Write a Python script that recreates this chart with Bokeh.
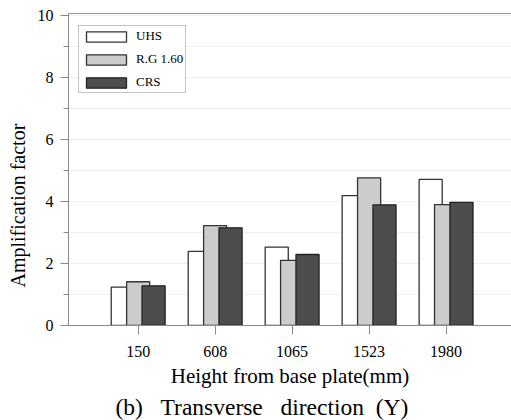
from bokeh.plotting import figure
from bokeh.models import (Range1d, FixedTicker, SingleIntervalTicker, LinearAxis,
                          Legend, LegendItem, ColumnDataSource, Title)
from bokeh.transform import dodge
from bokeh.embed import file_html
from bokeh.resources import INLINE

heights = ["150", "608", "1065", "1523", "1980"]
uhs = [1.24, 2.39, 2.53, 4.19, 4.71]
rg160 = [1.41, 3.22, 2.10, 4.76, 3.90]
crs = [1.28, 3.15, 2.29, 3.89, 3.97]
series_names = ["UHS", "R.G 1.60", "CRS"]

FONT = "Liberation Serif"
pos = list(range(1, len(heights) + 1))
src = ColumnDataSource(dict(x=pos, uhs=uhs, rg=rg160, crs=crs))

p = figure(width=511, height=420, output_backend="svg", toolbar_location=None,
           x_range=Range1d(0.095, 5.85), y_range=Range1d(0, 10.06),
           min_border_left=68, min_border_right=0, min_border_top=13,
           min_border_bottom=95)
p.outline_line_color = None
p.background_fill_color = "white"

r1 = p.vbar(x=dodge("x", -0.2, range=p.x_range), top="uhs", width=0.3, source=src,
            fill_color="white", line_color="#333333", line_width=1.3)
r2 = p.vbar(x=dodge("x", 0.0, range=p.x_range), top="rg", width=0.3, source=src,
            fill_color="#cccccc", line_color="#333333", line_width=1.3)
r3 = p.vbar(x=dodge("x", 0.2, range=p.x_range), top="crs", width=0.3, source=src,
            fill_color="#4d4d4d", line_color="#222222", line_width=1.3)

# axes
p.xaxis.ticker = FixedTicker(ticks=pos)
p.xaxis.major_label_overrides = {i: h for i, h in zip(pos, heights)}
p.xaxis.major_tick_in = 0
p.xaxis.major_tick_out = 9
p.yaxis.ticker = SingleIntervalTicker(interval=2, num_minor_ticks=2)
p.yaxis.major_tick_in = 0
p.yaxis.major_tick_out = 8
p.yaxis.minor_tick_in = 0
p.yaxis.minor_tick_out = 5
for ax in (p.xaxis, p.yaxis):
    ax.axis_line_color = "#888888"
    ax.major_tick_line_color = "#888888"
    ax.minor_tick_line_color = "#888888"
    ax.major_label_text_font = FONT
    ax.major_label_text_font_size = "16px"
    ax.major_label_text_color = "black"
    ax.axis_label_text_font = FONT
    ax.axis_label_text_font_size = "21px"
    ax.axis_label_text_font_style = "normal"
    ax.axis_label_text_color = "black"
p.xaxis.minor_tick_line_color = None
p.xaxis.axis_label = "Height from base plate(mm)"
p.xaxis.major_label_standoff = 11
p.xaxis.axis_label_standoff = 4
p.yaxis.major_label_standoff = 7

top_axis = LinearAxis(axis_line_color="#999999", ticker=FixedTicker(ticks=[]),
                      major_tick_line_color=None, minor_tick_line_color=None,
                      major_tick_out=0, major_label_standoff=0)
p.add_layout(top_axis, "above")

p.xgrid.grid_line_color = None
p.ygrid.grid_line_color = "#eeeeee"
p.ygrid.minor_grid_line_color = "#eeeeee"

ytitle = Title(text="Amplification factor", text_font=FONT, text_font_size="20px",
               text_font_style="normal", text_color="black", align="left",
               vertical_align="top", offset=38, standoff=8)
p.add_layout(ytitle, "left")

legend = Legend(items=[LegendItem(label=series_names[0], renderers=[r1]),
                       LegendItem(label=series_names[1], renderers=[r2]),
                       LegendItem(label=series_names[2], renderers=[r3])],
                location=(10, 232), glyph_width=50, glyph_height=13,
                label_height=13, spacing=7, padding=2, margin=0,
                label_standoff=5, label_text_font=FONT,
                label_text_font_size="13px", label_text_color="black",
                border_line_color="#888888", border_line_width=1)
p.add_layout(legend, "center")

title = Title(text="(b)\u00a0 \u00a0Transverse\u00a0 \u00a0direction\u00a0 (Y)", text_font=FONT,
              text_font_size="23.5px", text_font_style="normal", align="left",
              offset=47, standoff=2, text_color="black")
p.add_layout(title, "below")

open("out.html", "w").write(file_html(p, INLINE))
